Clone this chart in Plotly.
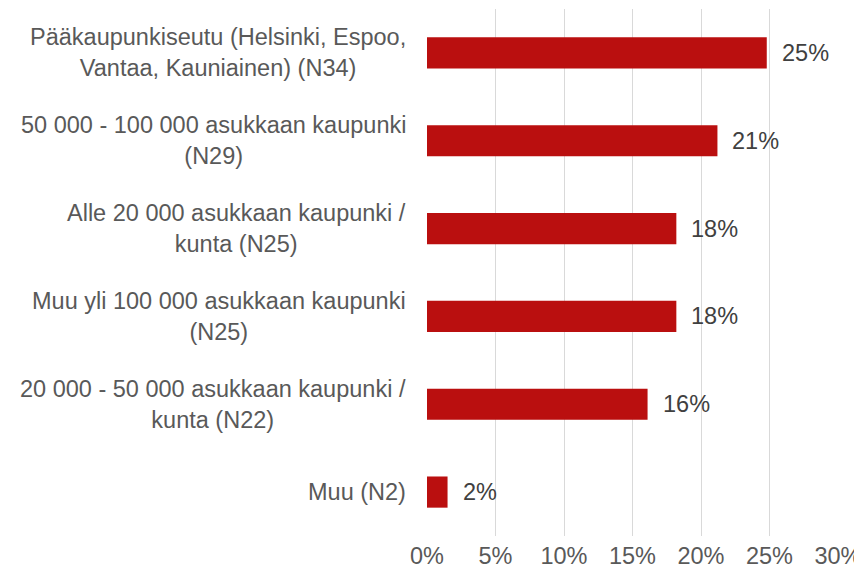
import plotly.graph_objects as go

categories = [
    "Pääkaupunkiseutu (Helsinki, Espoo,<br>Vantaa, Kauniainen) (N34)",
    "50 000 - 100 000 asukkaan kaupunki<br>(N29)",
    "Alle 20 000 asukkaan kaupunki /<br>kunta (N25)",
    "Muu yli 100 000 asukkaan kaupunki<br>(N25)",
    "20 000 - 50 000 asukkaan kaupunki /<br>kunta (N22)",
    "Muu (N2)",
]
values = [24.8, 21.2, 18.2, 18.2, 16.1, 1.5]
tick_vals = [0, 5, 10, 15, 20, 25, 30]
tick_text = ["0%", "5%", "10%", "15%", "20%", "25%", "30%"]

FONT = "Liberation Sans, Arial, sans-serif"
FS = 23.5
fig = go.Figure()
fig.add_trace(go.Bar(
    x=values, y=categories, orientation="h",
    marker=dict(color="#BA0F0F", line=dict(width=0)),
    hoverinfo="skip",
))

annotations = []
for c, v in zip(categories, values):
    annotations.append(dict(
        x=v, y=c, xref="x", yref="y", text=f"{round(v):d}%", showarrow=False,
        xanchor="left", xshift=13, font=dict(family=FONT, size=FS, color="#404040"),
    ))
    annotations.append(dict(
        x=0, y=c, xref="paper", yref="y", text=c, showarrow=False,
        xanchor="right", align="center", xshift=-19,
        font=dict(family=FONT, size=FS, color="#595959"),
    ))

# page body has an 8px default margin: figure is offset by 8px
fig.update_layout(
    width=854, height=567,
    margin=dict(l=419, r=24, t=1, b=39),
    paper_bgcolor="white", plot_bgcolor="white",
    showlegend=False,
    bargap=0.645,
    annotations=annotations,
    xaxis=dict(
        range=[0, 30], tickvals=tick_vals, ticktext=tick_text,
        showgrid=True, gridcolor="#D9D9D9", gridwidth=1.3,
        zeroline=False, showline=False, ticks="", automargin=False,
        ticklabelstandoff=3,
        tickfont=dict(family=FONT, size=FS, color="#595959"),
        fixedrange=True,
    ),
    yaxis=dict(
        categoryorder="array", categoryarray=categories, autorange="reversed",
        showticklabels=False, showgrid=False, zeroline=False, ticks="",
        automargin=False, fixedrange=True,
    ),
)
fig.write_html("out.html")
